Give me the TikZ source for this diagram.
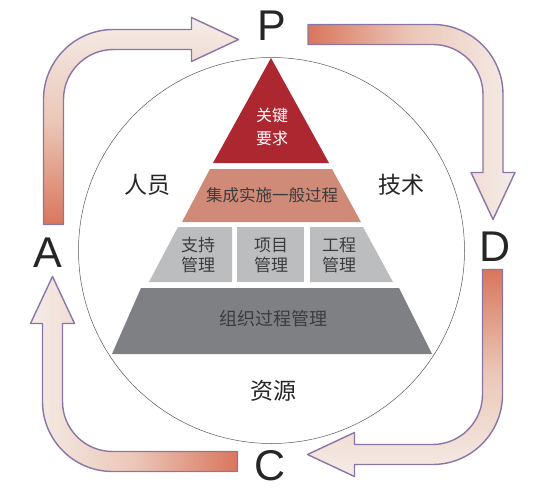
\documentclass[tikz,border=0pt]{standalone}
\usepackage{fontspec}
\setmainfont{Liberation Sans}
\newfontfamily\cjk{Noto Sans CJK SC}
\usetikzlibrary{positioning}

\definecolor{capred}{HTML}{AD2730}
\definecolor{capsalmon}{HTML}{CF8A78}
\definecolor{midgray}{HTML}{BCBDBF}
\definecolor{basegray}{HTML}{7F8084}
\definecolor{arrowtail}{HTML}{D9765C}
\definecolor{arrowmid}{HTML}{EBC7B8}
\definecolor{arrowhead}{HTML}{F5EDE8}
\definecolor{arrowedge}{HTML}{8A76A6}
\definecolor{boxtext}{HTML}{3C3C3C}

\tikzset{
  layertext/.style={font=\cjk\fontsize{16}{23}\selectfont, text=boxtext, align=center, inner sep=0pt},
  sidetext/.style={font=\cjk\fontsize{23}{26}\selectfont, text=black!85, inner sep=0pt},
  pdca/.style={font=\fontsize{43}{43}\selectfont, text=black!85, inner sep=0pt},
  cyclearrow/.style={draw=arrowedge, line width=1.4pt, line join=round},
}

\begin{document}
\begin{tikzpicture}[x=1pt,y=1pt]

\newcommand{\pdcaarrow}[4]{% corner x, corner y, rotation, shading
\begin{scope}[shift={(#1,#2)}, rotate=#3]
\draw[cyclearrow,#4] (-10,-185) -- (-10,-60) arc (180:90:70) -- (138,10) -- (138,22) -- (185,0) -- (138,-22) -- (138,-10) -- (60,-10) arc (90:180:50) -- (10,-185) -- cycle;
\end{scope}
}

\fill[white] (0,0) rectangle (549,-490);
\useasboundingbox (0,0) rectangle (549,-490);

%circle
\draw[black!65, line width=0.5pt] (271.5,-250.5) circle (193);

%pyramid
\fill[capred] (271,-58) -- (329,-163) -- (213,-163) -- cycle;
\fill[capsalmon] (210,-169) -- (332,-169) -- (361,-222) -- (182,-222) -- cycle;
\fill[midgray] (178,-227) -- (232,-227) -- (232,-282) -- (149,-282) -- cycle;
\fill[midgray] (237,-227) -- (304,-227) -- (304,-282) -- (237,-282) -- cycle;
\fill[midgray] (310,-227) -- (363,-227) -- (393,-282) -- (310,-282) -- cycle;
\fill[basegray] (141,-288) -- (399,-288) -- (432,-354) -- (112,-354) -- cycle;

%layer texts
\node[layertext, text=white] (key) at (272,-126.5) {关键\\要求};
\node[layertext, font=\cjk\fontsize{16.5}{20}\selectfont] (generic) at (272,-195) {集成实施一般过程};
\node[layertext, font=\cjk\fontsize{17}{20}\selectfont] (support) at (198,-255) {支持\\管理};
\node[layertext, font=\cjk\fontsize{17}{20}\selectfont] (project) at (271,-255) {项目\\管理};
\node[layertext, font=\cjk\fontsize{17}{20}\selectfont] (engineering) at (339,-255) {工程\\管理};
\node[layertext, font=\cjk\fontsize{18}{20}\selectfont] (organisation) at (273,-319) {组织过程管理};

%side labels
\node[sidetext] (people) at (147,-185) {人员};
\node[sidetext] (technology) at (401,-185) {技术};
\node[sidetext] (resources) at (273,-391) {资源};

%pdca letters
\node[pdca] (plan) at (272,-26) {P};
\node[pdca] (do) at (495,-247) {D};
\node[pdca] (check) at (270,-466) {C};
\node[pdca] (act) at (47.5,-253) {A};

%cycle arrows
\pdcaarrow{53.5}{-39.5}{0}{bottom color=arrowtail, top color=arrowhead, middle color=arrowmid}
\pdcaarrow{493}{-34.5}{-90}{left color=arrowtail, right color=arrowhead, middle color=arrowmid}
\pdcaarrow{492.5}{-454.5}{180}{top color=arrowtail, bottom color=arrowhead, middle color=arrowmid}
\pdcaarrow{52.5}{-461.5}{90}{right color=arrowtail, left color=arrowhead, middle color=arrowmid}

\end{tikzpicture}
\end{document}
